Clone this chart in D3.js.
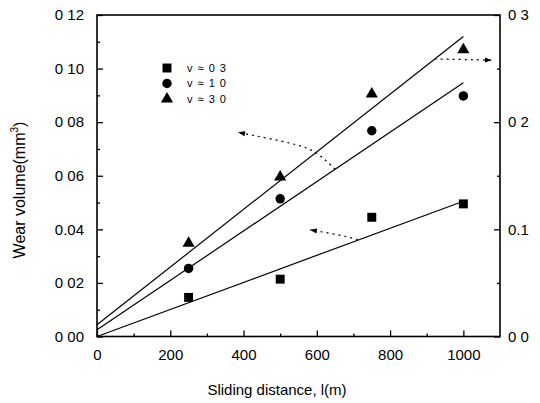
<!DOCTYPE html>
<html>
<head>
<meta charset="utf-8">
<script src="https://cdn.jsdelivr.net/npm/d3@7"></script>
<style>
  html, body { margin: 0; padding: 0; background: #fff; }
  svg { display: block; font-family: "Liberation Sans", Arial, sans-serif; }
</style>
</head>
<body>
<svg id="chart" width="540" height="403"></svg>
<script>
// Sliding distance (m) at which wear volume was measured
const distance = [250, 500, 750, 1000];

// Measured wear volume (mm^3) for each sliding speed
const wearV03 = [0.0146, 0.0214, 0.0445, 0.0495];
const wearV10 = [0.0254, 0.0514, 0.0768, 0.0898];
const wearV30 = [0.0348, 0.0595, 0.0905, 0.107];

// Linear fits: value at the start and end of the fit range
const fitRange = [0, 1000];
const fitV03 = [0.0, 0.0505];
const fitV10 = [0.0025, 0.0947];
const fitV30 = [0.0044, 0.112];

const seriesNames = ["v \u2248 0 3", "v \u2248 1 0", "v \u2248 3 0"];
const seriesShapes = ["square", "circle", "triangle"];

// Axis ticks and labels
const xTicks = [0, 200, 400, 600, 800, 1000];
const xMinorTicks = [100, 300, 500, 700, 900];
const yTicks = [0, 0.02, 0.04, 0.06, 0.08, 0.10, 0.12];
const yTickLabels = ["0 00", "0 02", "0.04", "0 06", "0 08", "0 10", "0 12"];
const yMinorTicks = [0.01, 0.03, 0.05, 0.07, 0.09, 0.11];
const y2Ticks = [0, 0.1, 0.2, 0.3];
const y2TickLabels = ["0 0", "0.1", "0 2", "0 3"];
const y2MinorTicks = [0.05, 0.15, 0.25];

// Dotted pointer arrows (data units of the left axis), head at the last point
const arrowToLeftUpper = [[650, 0.0624], [600, 0.069], [548, 0.0718], [385, 0.0762]];
const arrowToRight = [[922, 0.1036], [1000, 0.1034], [1078, 0.1031]];
const arrowToLeftLower = [[712, 0.0362], [660, 0.0380], [581, 0.0398]];

const svg = d3.select("#chart");
const x = d3.scaleLinear().domain([0, 1100]).range([97, 500]);
const y = d3.scaleLinear().domain([0, 0.12]).range([336.5, 15]);
const y2 = d3.scaleLinear().domain([0, 0.3]).range([336.5, 15]);

const plot = svg.append("g");

// Frame
plot.append("rect")
  .attr("x", x(0)).attr("y", y(0.12))
  .attr("width", x(1100) - x(0)).attr("height", y(0) - y(0.12))
  .attr("fill", "none").attr("stroke", "#000").attr("stroke-width", 1.6);

// Bottom axis (ticks pointing inward)
const xAxis = d3.axisBottom(x).tickValues(xTicks).tickSize(-6).tickPadding(13)
  .tickFormat(d3.format("d"));
const gx = plot.append("g").attr("transform", `translate(0,${y(0)})`).call(xAxis);
gx.select(".domain").remove();
const gxm = plot.append("g").attr("transform", `translate(0,${y(0)})`)
  .call(d3.axisBottom(x).tickValues(xMinorTicks).tickSize(-3).tickFormat(""));
gxm.select(".domain").remove();

// Left axis
const yAxis = d3.axisLeft(y).tickValues(yTicks).tickSize(-6).tickPadding(13)
  .tickFormat((d, i) => yTickLabels[i]);
const gy = plot.append("g").attr("transform", `translate(${x(0)},0)`).call(yAxis);
gy.select(".domain").remove();
const gym = plot.append("g").attr("transform", `translate(${x(0)},0)`)
  .call(d3.axisLeft(y).tickValues(yMinorTicks).tickSize(-3).tickFormat(""));
gym.select(".domain").remove();

// Right axis
const y2Axis = d3.axisRight(y2).tickValues(y2Ticks).tickSize(-6).tickPadding(8)
  .tickFormat((d, i) => y2TickLabels[i]);
const gy2 = plot.append("g").attr("transform", `translate(${x(1100)},0)`).call(y2Axis);
gy2.select(".domain").remove();
const gy2m = plot.append("g").attr("transform", `translate(${x(1100)},0)`)
  .call(d3.axisRight(y2).tickValues(y2MinorTicks).tickSize(-3).tickFormat(""));
gy2m.select(".domain").remove();

svg.selectAll(".tick line").attr("stroke", "#000").attr("stroke-width", 1.3);
svg.selectAll(".tick text").attr("font-size", 15)
  .attr("font-family", "'Liberation Sans', Arial, sans-serif").attr("fill", "#000");

// Axis titles
svg.append("text")
  .attr("x", 277).attr("y", 395)
  .attr("text-anchor", "middle").attr("font-size", 15).attr("fill", "#000")
  .text("Sliding distance, l(m)");

const yTitle = svg.append("text")
  .attr("transform", "translate(25,190) rotate(-90)")
  .attr("text-anchor", "middle").attr("font-size", 16).attr("fill", "#000");
yTitle.append("tspan").text("Wear volume(mm");
yTitle.append("tspan").attr("font-size", 10).attr("dy", -7).text("3");
yTitle.append("tspan").attr("dy", 7).text(")");

// Fit lines
const fits = [fitV03, fitV10, fitV30];
const line = d3.line().x(d => x(d[0])).y(d => y(d[1]));
fits.forEach(f => {
  plot.append("path")
    .attr("d", line(fitRange.map((d, i) => [d, f[i]])))
    .attr("fill", "none").attr("stroke", "#000").attr("stroke-width", 1.2);
});

// Markers
const symbolType = { square: d3.symbolSquare, circle: d3.symbolCircle, triangle: d3.symbolTriangle };
const symbolSize = { square: 80, circle: 70, triangle: 64 };
function marker(g, shape, cx, cy) {
  g.append("path")
    .attr("d", d3.symbol(symbolType[shape], symbolSize[shape])())
    .attr("transform", `translate(${cx},${cy})`)
    .attr("fill", "#000");
}
[wearV03, wearV10, wearV30].forEach((vals, si) => {
  vals.forEach((v, i) => marker(plot, seriesShapes[si], x(distance[i]), y(v)));
});

// Legend
const legend = svg.append("g");
seriesNames.forEach((name, i) => {
  const ly = 68 + i * 15.5;
  marker(legend, seriesShapes[i], 167, ly);
  legend.append("text")
    .attr("x", 187).attr("y", ly).attr("dy", "0.35em")
    .attr("font-size", 11).attr("letter-spacing", 1).attr("fill", "#000")
    .text(name);
});

// Dotted arrows
const curve = d3.line().x(d => x(d[0])).y(d => y(d[1])).curve(d3.curveBasis);
function arrow(pts) {
  plot.append("path")
    .attr("d", curve(pts))
    .attr("fill", "none").attr("stroke", "#000").attr("stroke-width", 1.2)
    .attr("stroke-dasharray", "2,4");
  const p1 = pts[pts.length - 2], p2 = pts[pts.length - 1];
  const ang = Math.atan2(y(p2[1]) - y(p1[1]), x(p2[0]) - x(p1[0])) * 180 / Math.PI;
  plot.append("path")
    .attr("d", "M0,0 L-7,-2.5 L-7,2.5 Z")
    .attr("transform", `translate(${x(p2[0])},${y(p2[1])}) rotate(${ang})`)
    .attr("fill", "#000");
}
arrow(arrowToLeftUpper);
arrow(arrowToRight);
arrow(arrowToLeftLower);
</script>
</body>
</html>
